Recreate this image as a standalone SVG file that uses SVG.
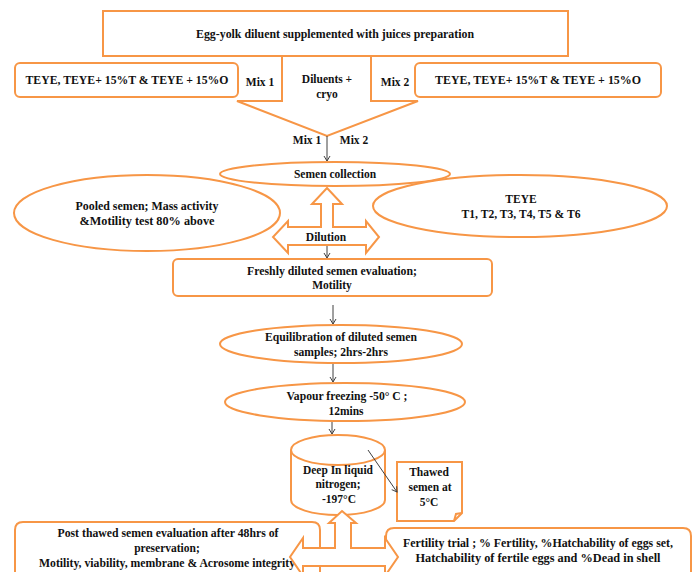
<svg xmlns="http://www.w3.org/2000/svg" width="696" height="572" viewBox="0 0 696 572">
<defs>
<style>
.o{fill:#fff;stroke:#F79646;stroke-width:2}
.on{fill:none;stroke:#F79646;stroke-width:2}
.t{font-family:"Liberation Serif","Times New Roman",serif;font-weight:bold;font-size:11.5px;fill:#111;text-anchor:middle}
.c{stroke:#404040;stroke-width:1;fill:none}
</style>
<marker id="ah" markerWidth="8" markerHeight="8" refX="6" refY="4" orient="auto" markerUnits="userSpaceOnUse">
<path d="M1,1 L6,4 L1,7" fill="none" stroke="#404040" stroke-width="1"/>
</marker>
</defs>
<rect width="696" height="572" fill="#fff"/>

<g id="callout">
<path class="o" d="M282,56 V101 H237 L327,136 L418,101 H371 V56"/>
<text class="t" x="327" y="83">Diluents +</text>
<text class="t" x="327" y="98">cryo</text>
<text class="t" x="260" y="86">Mix 1</text>
<text class="t" x="395" y="86">Mix 2</text>
<text class="t" x="307" y="144">Mix 1</text>
<text class="t" x="354" y="144">Mix 2</text>
</g>

<g id="title">
<rect class="o" x="103" y="11" width="465" height="45"/>
<text class="t" x="335" y="38" textLength="278" lengthAdjust="spacingAndGlyphs">Egg-yolk diluent  supplemented with juices preparation</text>
</g>

<g id="teye-left">
<rect class="o" x="15" y="63" width="223" height="34" rx="5"/>
<text class="t" x="127" y="84" textLength="203" lengthAdjust="spacingAndGlyphs">TEYE, TEYE+ 15%T &amp; TEYE + 15%O</text>
</g>

<g id="teye-right">
<rect class="o" x="415" y="63" width="246" height="34" rx="5"/>
<text class="t" x="538" y="84" textLength="206" lengthAdjust="spacingAndGlyphs">TEYE,  TEYE+ 15%T &amp; TEYE + 15%O</text>
</g>

<g id="semen-collection">
<ellipse class="on" cx="335" cy="174" rx="115" ry="12"/>
<text class="t" x="335" y="178">Semen collection</text>
</g>

<g id="pooled">
<ellipse class="on" cx="147" cy="213" rx="133" ry="38"/>
<text class="t" x="147" y="210" textLength="143" lengthAdjust="spacingAndGlyphs">Pooled semen;  Mass activity</text>
<text class="t" x="147" y="225" textLength="135" lengthAdjust="spacingAndGlyphs">&amp;Motility test  80%  above</text>
</g>

<g id="teye-treat">
<ellipse class="on" cx="520" cy="206" rx="147" ry="31"/>
<text class="t" x="521" y="203">TEYE</text>
<text class="t" x="521" y="218" textLength="119" lengthAdjust="spacingAndGlyphs">T1, T2, T3, T4, T5 &amp; T6</text>
</g>

<g id="dilution">
<path class="o" d="M327,188 L342,204 H333 V227 H366 V221 L379,237 L366,253 V245 H288 V253 L273,237 L288,221 V227 H321 V204 H312 Z"/>
<text class="t" x="326" y="241">Dilution</text>
</g>

<g id="fresh">
<rect class="o" x="173" y="259" width="319" height="37" rx="5"/>
<text class="t" x="332" y="275" textLength="170" lengthAdjust="spacingAndGlyphs">Freshly diluted semen evaluation;</text>
<text class="t" x="332" y="289">Motility</text>
</g>

<g id="equilibration">
<ellipse class="o" cx="341" cy="344" rx="121" ry="19"/>
<text class="t" x="341" y="341" textLength="152" lengthAdjust="spacingAndGlyphs">Equilibration of diluted semen</text>
<text class="t" x="341" y="356" textLength="94" lengthAdjust="spacingAndGlyphs">samples; 2hrs-2hrs</text>
</g>

<g id="vapour">
<ellipse class="o" cx="345" cy="402" rx="120" ry="19"/>
<text class="t" x="347" y="400" textLength="121" lengthAdjust="spacingAndGlyphs">Vapour freezing -50° C ;</text>
<text class="t" x="346" y="415">12mins</text>
</g>

<g id="nitrogen">
<path class="o" d="M291,450 V500 A47,15 0 0 0 385,500 V450"/>
<ellipse class="o" cx="338" cy="450" rx="47" ry="15"/>
<text class="t" x="338" y="474" textLength="70" lengthAdjust="spacingAndGlyphs">Deep In liquid</text>
<text class="t" x="338" y="488">nitrogen;</text>
<text class="t" x="339" y="503">-197°C</text>
</g>

<g id="thawed">
<path class="o" d="M397,462 H462 V513 L454,521 H397 Z"/>
<path class="on" d="M454,521 L456,514 L462,513"/>
<text class="t" x="429" y="476">Thawed</text>
<text class="t" x="430" y="491">semen at</text>
<text class="t" x="429" y="506">5°C</text>
</g>

<g id="post-thawed">
<path class="o" d="M15,580 V530 Q15,522 23,522 H312 Q320,522 320,530 V580"/>
<text class="t" x="168" y="537" textLength="221" lengthAdjust="spacingAndGlyphs">Post thawed semen evaluation after 48hrs of</text>
<text class="t" x="167" y="552">preservation;</text>
<text class="t" x="167" y="567" textLength="256" lengthAdjust="spacingAndGlyphs">Motility, viability, membrane &amp; Acrosome integrity</text>
</g>

<g id="fertility">
<path class="o" d="M386,580 V536 Q386,528 394,528 H683 Q691,528 691,536 V580"/>
<text class="t" x="538" y="547" textLength="270" lengthAdjust="spacingAndGlyphs">Fertility trial ; % Fertility, %Hatchability  of eggs set,</text>
<text class="t" x="538" y="562" textLength="245" lengthAdjust="spacingAndGlyphs">Hatchability  of  fertile eggs  and  %Dead in shell</text>
</g>

<g id="bottom-arrow">
<path class="o" d="M342,511 L356,523 H351 V548 H385 V538 L398,557 L385,576 V566 H303 V576 L290,557 L303,538 V548 H335 V523 H329 Z"/>
</g>

<g id="connectors">
<line class="c" x1="327" y1="136" x2="327" y2="161" marker-end="url(#ah)"/>
<line class="c" x1="327" y1="246" x2="327" y2="258" marker-end="url(#ah)"/>
<line class="c" x1="333" y1="305" x2="333" y2="324" marker-end="url(#ah)"/>
<line class="c" x1="333" y1="364" x2="333" y2="382" marker-end="url(#ah)"/>
<line class="c" x1="332" y1="422" x2="332" y2="434" marker-end="url(#ah)"/>
<line class="c" x1="368" y1="450" x2="397" y2="492" marker-end="url(#ah)"/>
</g>
</svg>
